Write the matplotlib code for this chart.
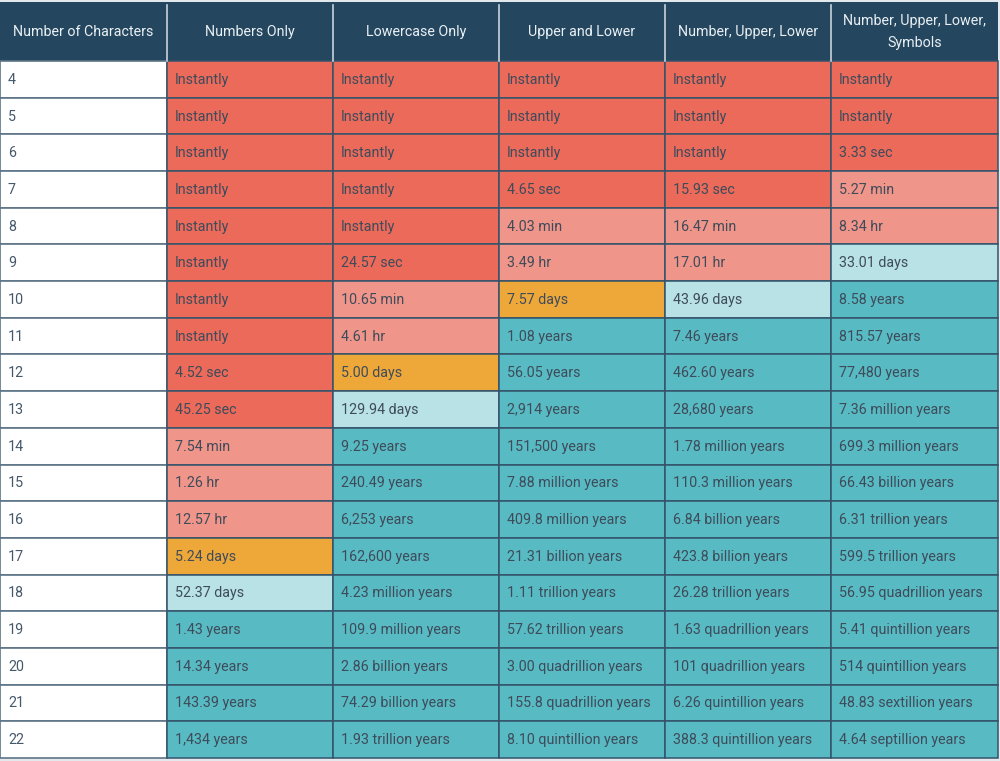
import matplotlib
matplotlib.use("Agg")
import matplotlib.pyplot as plt
from matplotlib.patches import Rectangle

plt.rcParams['font.family'] = ['Roboto', 'DejaVu Sans']

headers = ["Number of Characters", "Numbers Only", "Lowercase Only", "Upper and Lower",
           "Number, Upper, Lower", "Number, Upper, Lower,\nSymbols"]
n_chars = [4, 5, 6, 7, 8, 9, 10, 11, 12, 13, 14, 15, 16, 17, 18, 19, 20, 21, 22]

numbers_only = ["Instantly"] * 8 + ["4.52 sec", "45.25 sec", "7.54 min", "1.26 hr", "12.57 hr",
                "5.24 days", "52.37 days", "1.43 years", "14.34 years", "143.39 years", "1,434 years"]
lowercase_only = ["Instantly"] * 5 + ["24.57 sec", "10.65 min", "4.61 hr", "5.00 days", "129.94 days",
                  "9.25 years", "240.49 years", "6,253 years", "162,600 years", "4.23 million years",
                  "109.9 million years", "2.86 billion years", "74.29 billion years", "1.93 trillion years"]
upper_lower = ["Instantly"] * 3 + ["4.65 sec", "4.03 min", "3.49 hr", "7.57 days", "1.08 years",
               "56.05 years", "2,914 years", "151,500 years", "7.88 million years", "409.8 million years",
               "21.31 billion years", "1.11 trillion years", "57.62 trillion years",
               "3.00 quadrillion years", "155.8 quadrillion years", "8.10 quintillion years"]
num_upper_lower = ["Instantly"] * 3 + ["15.93 sec", "16.47 min", "17.01 hr", "43.96 days", "7.46 years",
                   "462.60 years", "28,680 years", "1.78 million years", "110.3 million years",
                   "6.84 billion years", "423.8 billion years", "26.28 trillion years",
                   "1.63 quadrillion years", "101 quadrillion years", "6.26 quintillion years",
                   "388.3 quintillion years"]
all_symbols = ["Instantly"] * 2 + ["3.33 sec", "5.27 min", "8.34 hr", "33.01 days", "8.58 years",
               "815.57 years", "77,480 years", "7.36 million years", "699.3 million years",
               "66.43 billion years", "6.31 trillion years", "599.5 trillion years",
               "56.95 quadrillion years", "5.41 quintillion years", "514 quintillion years",
               "48.83 sextillion years", "4.64 septillion years"]

# strength level per cell: 0 red, 1 light red, 2 orange, 3 light teal, 4 teal
lvl_numbers = [0] * 10 + [1] * 3 + [2, 3] + [4] * 4
lvl_lower = [0] * 6 + [1] * 2 + [2, 3] + [4] * 9
lvl_upper = [0] * 4 + [1] * 2 + [2] + [4] * 12
lvl_nul = [0] * 4 + [1] * 2 + [3] + [4] * 12
lvl_sym = [0] * 3 + [1] * 2 + [3] + [4] * 13

columns = [numbers_only, lowercase_only, upper_lower, num_upper_lower, all_symbols]
levels = [lvl_numbers, lvl_lower, lvl_upper, lvl_nul, lvl_sym]
level_colors = ["#EB6A5A", "#EF958A", "#EEA83A", "#B8E2E5", "#58BAC2"]

header_bg = "#24475F"
text_col = "#3E4B5A"
border = "#34536B"
FS = 10.3

W, H = 1000, 761
fig = plt.figure(figsize=(10, 7.61), dpi=100)
fig.patch.set_facecolor("#E3E8EC")
ax = fig.add_axes([0, 0, 1, 1])
ax.set_xlim(0, W)
ax.set_ylim(H, 0)
ax.axis("off")

col_edges = [0, 167, 333, 499, 665, 831, 998]
head_top, head_bot = 2, 61
row_h = (758 - head_bot) / len(n_chars)

# header
for j, h in enumerate(headers):
    x0, x1 = col_edges[j], col_edges[j + 1]
    ax.add_patch(Rectangle((x0, head_top), x1 - x0, head_bot - head_top, facecolor=header_bg,
                           edgecolor="none"))
    ax.text((x0 + x1) / 2, (head_top + head_bot) / 2 + 0.5, h, ha="center", va="center",
            color="#EAF0F4", fontsize=FS, linespacing=1.65)
for x in col_edges[1:-1]:
    ax.plot([x, x], [head_top + 3, head_bot], color="#C9D3DB", lw=1.2)

# body
for i, n in enumerate(n_chars):
    y0 = head_bot + i * row_h
    ax.add_patch(Rectangle((0, y0), col_edges[1], row_h, facecolor="white",
                           edgecolor="#5E7486", lw=1.2))
    ax.text(8, y0 + row_h / 2 + 0.5, str(n), ha="left", va="center", color="#45586A", fontsize=FS)
    for j in range(5):
        x0, x1 = col_edges[j + 1], col_edges[j + 2]
        ax.add_patch(Rectangle((x0, y0), x1 - x0, row_h,
                               facecolor=level_colors[levels[j][i]], edgecolor=border, lw=1.1))
        ax.text(x0 + 8, y0 + row_h / 2 + 0.5, columns[j][i], ha="left", va="center",
                color=text_col, fontsize=FS)

fig.savefig("out.png", dpi=100, facecolor=fig.get_facecolor())
